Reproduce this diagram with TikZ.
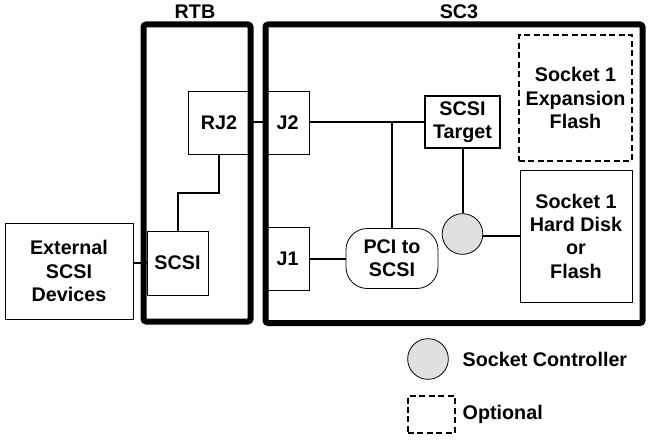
\documentclass[tikz,border=0pt]{standalone}
\usepackage{fontspec}
\setmainfont{Liberation Sans}
\usetikzlibrary{positioning}

\begin{document}
\begin{tikzpicture}[x=0.75pt,y=-0.75pt]
\tikzset{
  boardframe/.style={draw=black,line width=4.5pt,rounded corners=2pt,inner sep=0pt},
  blockbox/.style={rectangle,draw=black,line width=0.6pt,align=center,inner sep=1pt,font=\fontsize{14.8}{17.5}\selectfont\bfseries},
  optbox/.style={blockbox,dash pattern=on 4.5pt off 2.6pt,line width=1pt},
  ctrlnode/.style={circle,draw=black,line width=0.6pt,fill=black!12,minimum size=30.5pt,inner sep=0pt},
  boardlabel/.style={font=\fontsize{14.8}{17.5}\selectfont\bfseries},
  wire/.style={draw=black,line width=1.5pt}
}
\useasboundingbox (0,0) rectangle (649,445);
% boards
\node[boardframe,minimum width=80.25pt,minimum height=222.75pt] (n_rtb) at (197,173) {};
\node[boardframe,minimum width=282.75pt,minimum height=223.9pt] (n_sc3) at (454,173.75) {};
\node[boardlabel] (l_rtb) at (195,12) {RTB};
\node[boardlabel] (l_sc3) at (459,12) {SC3};
% blocks
\node[blockbox,minimum width=96pt,minimum height=72pt] (n_ext) at (69,271) {External\\SCSI\\Devices};
\node[blockbox,minimum width=45.75pt,minimum height=48pt] (n_scsi) at (177.5,263) {SCSI};
\node[blockbox,minimum width=46.5pt,minimum height=47.25pt] (n_rj2) at (219,122.5) {RJ2};
\node[blockbox,minimum width=32.25pt,minimum height=47.25pt] (n_j2) at (287.5,122.5) {J2};
\node[blockbox,minimum width=32.25pt,minimum height=47.25pt] (n_j1) at (287.5,258.5) {J1};
\node[blockbox,rounded corners=16pt,minimum width=69pt,minimum height=45pt] (n_pci) at (392,258.5) {PCI to\\SCSI};
\node[blockbox,line width=1.5pt,minimum width=56.25pt,minimum height=39pt] (n_target) at (462.5,122.5) {SCSI\\Target};
\node[ctrlnode] (n_ctrl) at (462.5,234) {};
\node[blockbox,minimum width=84pt,minimum height=99pt] (n_disk) at (576,236) {Socket 1\\Hard Disk\\or\\Flash};
\node[optbox,minimum width=84.75pt,minimum height=94.5pt] (n_flash) at (575.5,98) {Socket 1\\Expansion\\Flash};
% legend
\node[ctrlnode] (k_ctrl) at (428,359) {};
\node[boardlabel,anchor=west] (k_ctrl_txt) at (458,359) {Socket Controller};
\node[optbox,minimum width=35.25pt,minimum height=27.75pt] (k_opt) at (431.5,414.5) {};
\node[boardlabel,anchor=west] (k_opt_txt) at (458,414) {Optional};
% connections
\draw[wire] (n_scsi.west) -- (n_scsi.west -| n_ext.east);
\draw[wire] (n_rj2.south) -- ++(0,38.5) -| (n_scsi.north);
\draw[wire] (n_rj2.east) -- (n_j2.west);
\draw[wire] (n_j2.east) -- (n_target.west);
\draw[wire] (n_pci.north) -- (n_pci.north |- n_j2.east);
\draw[wire] (n_j1.east) -- (n_pci.west);
\draw[wire] (n_target.south) -- (n_ctrl.north);
\draw[wire] (n_ctrl.east |- n_disk.west) -- (n_disk.west);
\end{tikzpicture}
\end{document}
